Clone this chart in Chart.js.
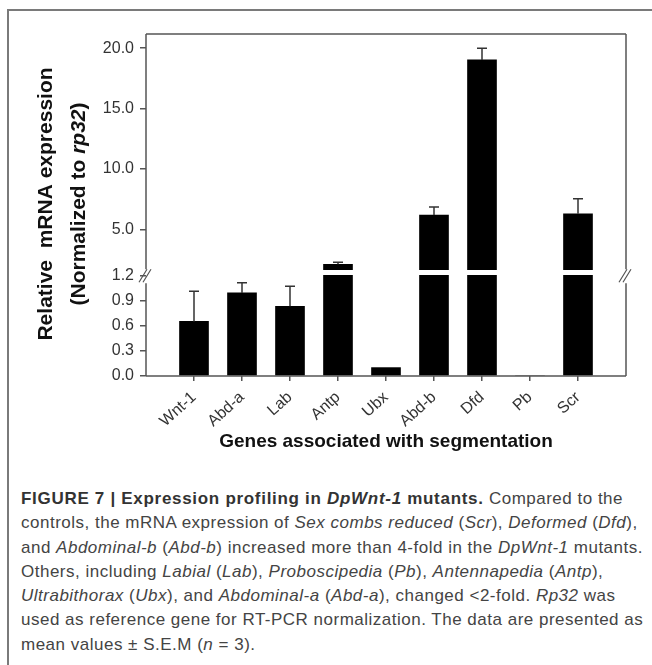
<!DOCTYPE html>
<html lang="en">
<head>
<meta charset="UTF-8">
<title>Expression profiling in DpWnt-1 mutants</title>
<script src="https://cdn.jsdelivr.net/npm/chart.js"></script>
<style>
    body { margin: 0; width: 652px; height: 665px; overflow: hidden; position: relative; background: #fff;
           font-family: "Liberation Sans", Arial, sans-serif; }
    #frame { position: absolute; left: 7px; top: 9px; width: 700px; height: 700px; border: 2px solid #7a7a7a; box-sizing: border-box; }
    #exprChart { position: absolute; left: 0; top: 0; }
    #caption { position: absolute; left: 21px; top: 487px; font-size: 17px; letter-spacing: 0.5px; line-height: 24.3px; color: #444; white-space: nowrap; }
    #caption b { color: #333; letter-spacing: 0.7px; }
</style>
</head>
<body>

<div id="frame"></div>
<canvas id="exprChart" width="652" height="470"></canvas>

<div id="caption">
    <div><b>FIGURE 7 | Expression profiling in <i>DpWnt-1</i> mutants.</b> Compared to the</div>
    <div>controls, the mRNA expression of <i>Sex combs reduced</i> (<i>Scr</i>), <i>Deformed</i> (<i>Dfd</i>),</div>
    <div>and <i>Abdominal-b</i> (<i>Abd-b</i>) increased more than 4-fold in the <i>DpWnt-1</i> mutants.</div>
    <div>Others, including <i>Labial</i> (<i>Lab</i>), <i>Proboscipedia</i> (<i>Pb</i>), <i>Antennapedia</i> (<i>Antp</i>),</div>
    <div><i>Ultrabithorax</i> (<i>Ubx</i>), and <i>Abdominal-a</i> (<i>Abd-a</i>), changed &lt;2-fold. <i>Rp32</i> was</div>
    <div>used as reference gene for RT-PCR normalization. The data are presented as</div>
    <div>mean values &plusmn; S.E.M (<i>n</i> = 3).</div>
</div>

<script>
    // values
    const genes = ['Wnt-1', 'Abd-a', 'Lab', 'Antp', 'Ubx', 'Abd-b', 'Dfd', 'Pb', 'Scr'];
    const expression = [0.65, 0.99, 0.83, 2.10, 0.10, 6.18, 19.03, 0, 6.29];
    const sem = [0.36, 0.12, 0.24, 0.17, 0, 0.67, 0.97, 0, 1.25];
    const lowTicks = [0.0, 0.3, 0.6, 0.9, 1.2];
    const highTicks = [5.0, 10.0, 15.0, 20.0];

    // broken axis: lower part 0 - 1.2, upper part from ~1.6 to the top
    const BREAK = lowTicks[lowTicks.length - 1];
    const LOW_MAX = 1.263;
    const HIGH_MIN = 1.63;
    const HIGH_MAX = 21.18;

    const FONT = "'Liberation Sans', Arial, sans-serif";
    Chart.defaults.font.family = FONT;

    const lowData = expression.map((v, i) => ({ x: i + 1, y: Math.min(v, BREAK) }));
    const highData = expression.flatMap((v, i) => v > BREAK ? [{ x: i + 1, y: [HIGH_MIN, v] }] : []);

    // frame, gaps and // marks of the broken axis
    const framePlugin = {
        id: 'frame',
        afterDraw(chart) {
            const { ctx, chartArea: a } = chart;
            const yb = chart.scales.yLow.getPixelForValue(BREAK) + 1;
            ctx.save();
            ctx.strokeStyle = '#555';
            ctx.lineWidth = 1.5;
            ctx.beginPath();
            ctx.moveTo(a.left, a.top); ctx.lineTo(a.right, a.top);
            ctx.moveTo(a.left, a.bottom); ctx.lineTo(a.right, a.bottom);
            [a.left, a.right].forEach(x => {
                ctx.moveTo(x, a.top); ctx.lineTo(x, yb - 7);
                ctx.moveTo(x, yb + 7); ctx.lineTo(x, a.bottom);
            });
            ctx.stroke();
            ctx.lineWidth = 1.2;
            ctx.beginPath();
            [a.left, a.right].forEach(x => {
                for (let k = 0; k < 2; k++) {
                    ctx.moveTo(x - 7 + k * 4, yb + 6);
                    ctx.lineTo(x + 1 + k * 4, yb - 7);
                }
            });
            ctx.stroke();
            ctx.restore();
        }
    };

    // upward error bars (S.E.M)
    const errorPlugin = {
        id: 'errorBars',
        afterDatasetsDraw(chart) {
            const { ctx } = chart;
            const xs = chart.scales.x;
            ctx.save();
            ctx.strokeStyle = '#333';
            ctx.lineWidth = 1.5;
            expression.forEach((v, i) => {
                if (!sem[i]) return;
                const ys = v > BREAK ? chart.scales.yHigh : chart.scales.yLow;
                const x = xs.getPixelForValue(i + 1);
                const y0 = ys.getPixelForValue(v);
                const y1 = ys.getPixelForValue(v + sem[i]);
                ctx.beginPath();
                ctx.moveTo(x, y0); ctx.lineTo(x, y1);
                ctx.moveTo(x - 5, y1); ctx.lineTo(x + 5, y1);
                ctx.stroke();
            });
            ctx.restore();
        }
    };

    // two-line y title with italic rp32
    const yTitlePlugin = {
        id: 'yTitle',
        afterDraw(chart) {
            const { ctx, chartArea: a } = chart;
            const yc = (a.top + a.bottom) / 2 - 1;
            const bold = `bold 21px ${FONT}`;
            const boldIt = `italic bold 21px ${FONT}`;
            ctx.save();
            ctx.fillStyle = '#111';
            ctx.textBaseline = 'middle';
            ctx.translate(46.5, yc);
            ctx.rotate(-Math.PI / 2);
            ctx.font = bold;
            ctx.textAlign = 'center';
            ctx.fillText('Relative  mRNA expression', 0, 0);
            const parts = [['(Normalized to ', bold], ['rp32', boldIt], [')', bold]];
            let w = 0;
            parts.forEach(p => { ctx.font = p[1]; w += ctx.measureText(p[0]).width; });
            ctx.textAlign = 'left';
            let x = -w / 2;
            parts.forEach(p => {
                ctx.font = p[1];
                ctx.fillText(p[0], x, 32.5);
                x += ctx.measureText(p[0]).width;
            });
            ctx.restore();
        }
    };

    const yTickStyle = {
        grid: { drawOnChartArea: false, drawTicks: true, tickLength: 6, color: '#555', lineWidth: 1.5 },
        border: { display: false },
        ticks: { color: '#333', font: { size: 16 }, padding: 6, autoSkip: false, callback: v => v.toFixed(1) }
    };

    const ctx = document.getElementById('exprChart').getContext('2d');
    new Chart(ctx, {
        type: 'bar',
        data: {
            datasets: [
                { data: lowData, yAxisID: 'yLow', backgroundColor: '#000', barThickness: 29, grouped: false },
                { data: highData, yAxisID: 'yHigh', backgroundColor: '#000', barThickness: 29, grouped: false }
            ]
        },
        options: {
            responsive: false,
            animation: false,
            layout: { padding: { left: 86, top: 34, right: 26, bottom: 13 } },
            plugins: { legend: { display: false }, tooltip: { enabled: false } },
            scales: {
                x: {
                    type: 'linear', min: 0, max: genes.length + 1, offset: false,
                    afterBuildTicks: s => { s.ticks = genes.map((g, i) => ({ value: i + 1 })); },
                    afterFit: s => { s.height = 81; },
                    grid: { offset: false, drawOnChartArea: false, drawTicks: true, tickLength: 5, color: '#555', lineWidth: 1.5 },
                    border: { display: false },
                    ticks: { color: '#333', font: { size: 16 }, padding: 7, minRotation: 42, maxRotation: 42, autoSkip: false,
                             callback: v => genes[v - 1] },
                    title: { display: true, text: 'Genes associated with segmentation', color: '#111',
                             font: { size: 19, weight: 'bold' }, padding: { top: 0, bottom: 4 } }
                },
                yLow: Object.assign({
                    type: 'linear', position: 'left', stack: 'y', stackWeight: 106, min: 0, max: LOW_MAX,
                    afterBuildTicks: s => { s.ticks = lowTicks.map(v => ({ value: v })); },
                    afterFit: s => { s.width = 60; }
                }, yTickStyle),
                yHigh: Object.assign({
                    type: 'linear', position: 'left', stack: 'y', stackWeight: 236, min: HIGH_MIN, max: HIGH_MAX,
                    afterBuildTicks: s => { s.ticks = highTicks.map(v => ({ value: v })); },
                    afterFit: s => { s.width = 60; }
                }, yTickStyle)
            }
        },
        plugins: [framePlugin, errorPlugin, yTitlePlugin]
    });
</script>

</body>
</html>
